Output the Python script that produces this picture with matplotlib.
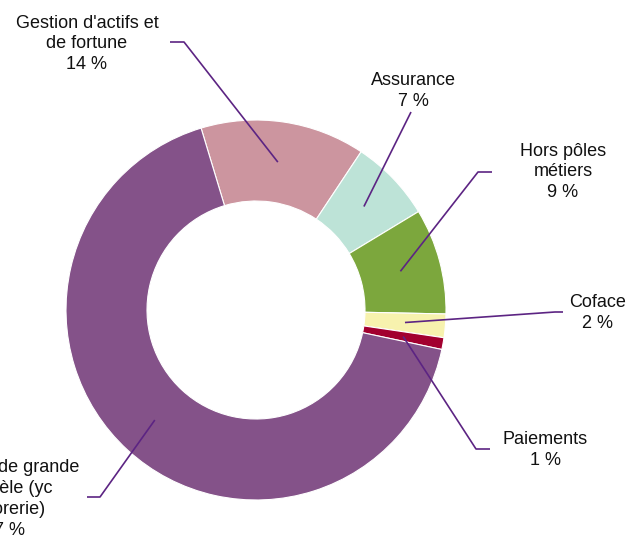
import numpy as np
import matplotlib.pyplot as plt

plt.rcParams['font.family'] = ['Liberation Sans', 'DejaVu Sans']

# Revenue split by business line (clockwise from the top)
labels = ["Gestion d'actifs et\nde fortune", "Assurance", "Hors pôles\nmétiers",
          "Coface", "Paiements", "Banque de grande\nclientèle (yc\ntrésorerie)"]
shares = [14, 7, 9, 2, 1, 67]
colors = ["#CC959F", "#BDE3D7", "#7CA73D", "#F7F2AE", "#A2002F", "#845289"]

# label placement (pixel coords, y downwards): text centre, elbow, end of horizontal stub
text_pos = [(87, 44), (413, 91), (563, 172), (598, 313), (545, 450), (5, 499)]
elbow = [(184, 42), (411, 112), (478, 172), (555, 312), (476, 449), (100, 497)]
stub = [(170, 42), (411, 112), (492, 172), (563, 312), (490, 449), (87, 497)]

W, H = 643, 539
cx, cy = 256, H - 310
r_out, r_in = 190, 109
start = 106.8

fig = plt.figure(figsize=(W / 100, H / 100), dpi=100)
ax = fig.add_axes([0, 0, 1, 1])
ax.pie(shares, colors=colors, startangle=start, counterclock=False,
       center=(cx, cy), radius=r_out,
       wedgeprops=dict(width=r_out - r_in, edgecolor='white', linewidth=0.8))
ax.set_xlim(0, W)
ax.set_ylim(0, H)
ax.set_aspect('equal')
ax.axis('off')

line_col = "#5C2483"
r_mid = (r_out + r_in) / 2
total = sum(shares)
acc = 0
for lab, val, tp, el, st in zip(labels, shares, text_pos, elbow, stub):
    mid = np.deg2rad(start - (acc + val / 2) / total * 360)
    acc += val
    x0 = cx + r_mid * np.cos(mid)
    y0 = cy + r_mid * np.sin(mid)
    ax.plot([x0, el[0], st[0]], [y0, H - el[1], H - st[1]],
            color=line_col, lw=1.2, solid_capstyle='butt')
    ax.text(tp[0], H - tp[1], f"{lab}\n{val} %", ha='center', va='center',
            fontsize=13, linespacing=1.3, color='#111111')

fig.savefig('out.png', dpi=100)
